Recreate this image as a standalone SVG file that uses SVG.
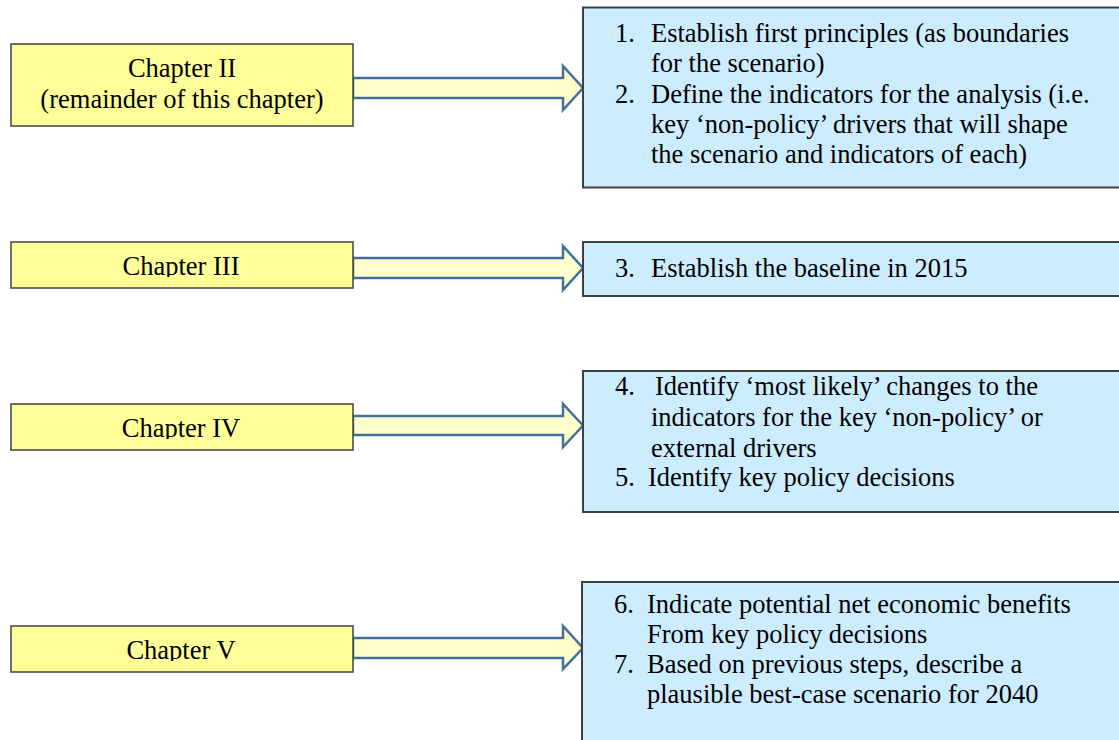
<svg xmlns="http://www.w3.org/2000/svg" width="1119" height="740" viewBox="0 0 1119 740">
<style>
.y{fill:#FFFF99;stroke:#404040;stroke-width:1.5}
.b{fill:#CCECFF;stroke:#404040;stroke-width:2}
.a{fill:#FFFFCC;stroke:#41719C;stroke-width:2.5;stroke-linejoin:miter}
text{font-family:"Liberation Serif","Times New Roman",serif;font-size:26.5px;fill:#000}
.c{text-anchor:middle}
</style>
<defs>
<clipPath id="c3"><rect x="0" y="240" width="360" height="37"/></clipPath>
<clipPath id="c4"><rect x="0" y="400" width="360" height="39"/></clipPath>
<clipPath id="c5"><rect x="0" y="620" width="360" height="41"/></clipPath>
</defs>
<rect width="1119" height="740" fill="#fff"/>
<g id="connectors">
<path class="a" d="M353,78H563V66L583,88L563,110V98H353Z"/>
<path class="a" d="M353,258H563V246L583,268L563,290V278H353Z"/>
<path class="a" d="M353,416H563V404L583,425.5L563,447V435H353Z"/>
<path class="a" d="M353,638H563V626L583,648L563,669V658H353Z"/>
</g>
<g id="ch2">
<rect class="y" x="11" y="44" width="342" height="82"/>
<text class="c" x="182" y="77">Chapter II</text>
<text class="c" x="182" y="108">(remainder of this chapter)</text>
</g>
<g id="ch3">
<rect class="y" x="11" y="242" width="342" height="46"/>
<text class="c" x="181" y="275" clip-path="url(#c3)">Chapter III</text>
</g>
<g id="ch4">
<rect class="y" x="11" y="404" width="342" height="46"/>
<text class="c" x="181" y="437" clip-path="url(#c4)">Chapter IV</text>
</g>
<g id="ch5">
<rect class="y" x="11" y="626" width="342" height="46"/>
<text class="c" x="181" y="659" clip-path="url(#c5)">Chapter V</text>
</g>
<g id="steps12">
<rect class="b" x="583" y="7.5" width="560" height="180"/>
<text x="615" y="41.5">1.</text>
<text x="651" y="41.5">Establish first principles (as boundaries</text>
<text x="651" y="72">for the scenario)</text>
<text x="615" y="102.5">2.</text>
<text x="651" y="102.5">Define the indicators for the analysis (i.e.</text>
<text x="651" y="133">key ‘non-policy’ drivers that will shape</text>
<text x="651" y="163">the scenario and indicators of each)</text>
</g>
<g id="step3">
<rect class="b" x="583" y="242" width="560" height="54"/>
<text x="615" y="276.5">3.</text>
<text x="651" y="276.5">Establish the baseline in 2015</text>
</g>
<g id="steps45">
<rect class="b" x="583" y="371" width="560" height="141"/>
<text x="615" y="395">4.</text>
<text x="655" y="395">Identify ‘most likely’ changes to the</text>
<text x="651" y="426">indicators for the key ‘non-policy’ or</text>
<text x="651" y="456.5">external drivers</text>
<text x="615" y="486">5.</text>
<text x="648" y="486">Identify key policy decisions</text>
</g>
<g id="steps67">
<rect class="b" x="582" y="582" width="560" height="180"/>
<text x="614" y="613">6.</text>
<text x="647" y="613">Indicate potential net economic benefits</text>
<text x="647" y="643">From key policy decisions</text>
<text x="614" y="673">7.</text>
<text x="647" y="673">Based on previous steps, describe a</text>
<text x="647" y="703">plausible best-case scenario for 2040</text>
</g>
</svg>
